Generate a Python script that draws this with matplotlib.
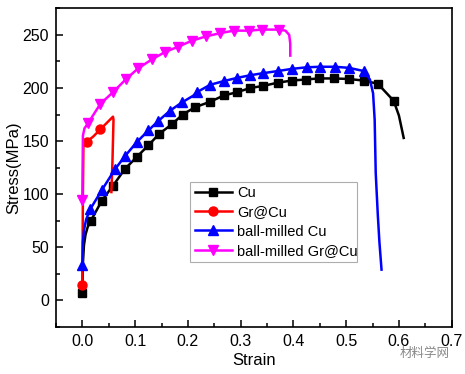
import matplotlib
matplotlib.use("Agg")
from matplotlib import pyplot as plt
from matplotlib.ticker import MultipleLocator, FormatStrFormatter

# Cu
cu_strain = [0, 0.001, 0.003, 0.006, 0.010, 0.016, 0.037, 0.058, 0.081, 0.103, 0.125,
             0.146, 0.170, 0.190, 0.214, 0.242, 0.268, 0.293, 0.318, 0.343, 0.370,
             0.397, 0.423, 0.448, 0.476, 0.505, 0.533, 0.560, 0.590, 0.600, 0.609]
cu_stress = [7, 35, 52, 62, 69, 75, 94, 108, 124, 135, 146,
             157, 166, 175, 182, 187, 193, 196, 200, 202, 205,
             207, 208, 209, 209, 208.5, 207, 204, 188, 174, 153]
cu_marks = [0] + list(range(5, 29))

# Gr@Cu
gr_strain = [0, 0.001, 0.002, 0.008, 0.020, 0.034, 0.050, 0.058, 0.059, 0.057, 0.055]
gr_stress = [15, 100, 147, 149.5, 154, 161, 169, 173, 170, 130, 102]
gr_marks = [0, 3, 5]

# ball-milled Cu
bm_strain = [0, 0.001, 0.003, 0.007, 0.015, 0.037, 0.062, 0.081, 0.103, 0.125, 0.144,
             0.166, 0.189, 0.210, 0.217, 0.242, 0.268, 0.293, 0.318, 0.343, 0.371,
             0.397, 0.425, 0.451, 0.478, 0.505, 0.533, 0.545, 0.551, 0.554, 0.556,
             0.560, 0.563, 0.565, 0.567]
bm_stress = [33, 55, 66, 76, 86, 104, 123.6, 136, 149, 160, 169,
             178.6, 186.5, 192.7, 196, 203, 206.5, 209.5, 212, 214, 216,
             218, 219.5, 220, 220, 219, 216, 208, 195, 170, 120,
             80, 55, 42, 29]
bm_marks = [0] + list(range(4, 13)) + list(range(14, 27))

# ball-milled Gr@Cu
bmg_strain = [0, 0.001, 0.004, 0.011, 0.034, 0.059, 0.083, 0.106, 0.132, 0.156, 0.182,
              0.208, 0.235, 0.261, 0.287, 0.315, 0.340, 0.372, 0.385, 0.392, 0.394, 0.394]
bmg_stress = [95, 155, 162, 167, 185, 196.5, 208.5, 218.6, 227, 233.7, 239,
              244.6, 248.7, 251.6, 254, 254, 255, 255, 254, 250, 242, 230.5]
bmg_marks = [0] + list(range(3, 18))

plt.rcParams['font.family'] = ['Liberation Sans', 'DejaVu Sans']

fig = plt.figure(figsize=(4.65, 3.74), dpi=100)
ax = fig.add_axes([0.1204, 0.1257, 0.851, 0.852])

ax.plot(cu_strain, cu_stress, color='black', lw=1.8, marker='s', ms=6,
        markevery=cu_marks, label='Cu')
ax.plot(gr_strain, gr_stress, color='red', lw=1.8, marker='o', ms=6.5,
        markevery=gr_marks, label='Gr@Cu')
ax.plot(bm_strain, bm_stress, color='blue', lw=1.8, marker='^', ms=7,
        markevery=bm_marks, label='ball-milled Cu')
ax.plot(bmg_strain, bmg_stress, color='magenta', lw=1.8, marker='v', ms=7,
        markevery=bmg_marks, label='ball-milled Gr@Cu')

ax.set_xlim(-0.05, 0.7)
ax.set_ylim(-25, 275)
ax.xaxis.set_major_locator(MultipleLocator(0.1))
ax.xaxis.set_minor_locator(MultipleLocator(0.05))
ax.yaxis.set_major_locator(MultipleLocator(50))
ax.yaxis.set_minor_locator(MultipleLocator(25))
ax.xaxis.set_major_formatter(FormatStrFormatter('%.1f'))
ax.tick_params(which='both', direction='in', top=False, right=False,
               labelsize=11.5, width=1.1)
ax.tick_params(which='major', length=5, pad=5)
ax.tick_params(which='minor', length=3)
for s in ax.spines.values():
    s.set_linewidth(1.2)

ax.set_xlabel('Strain', fontsize=12, labelpad=3)
ax.set_ylabel('Stress(MPa)', fontsize=12, labelpad=1)

leg = ax.legend(loc='lower left', bbox_to_anchor=(0.339, 0.204, 0.421, 0.236),
                mode='expand', fontsize=10.5, frameon=True, fancybox=False,
                handlelength=2.6, handletextpad=0.3, borderpad=0.3,
                labelspacing=0.35, borderaxespad=0)
leg.get_frame().set_edgecolor('#999999')
leg.get_frame().set_linewidth(0.8)

fig.text(0.968, 0.055, '材料学网', ha='right', va='center', fontsize=9,
         color='#888888', family=['Noto Sans CJK SC', 'DejaVu Sans'])

fig.savefig('out.png', dpi=100)
